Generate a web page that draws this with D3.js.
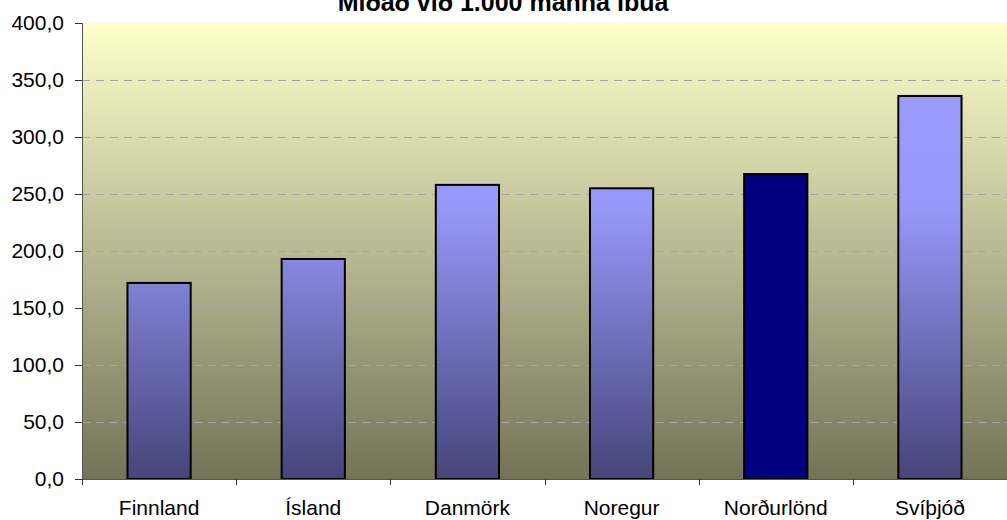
<!DOCTYPE html>
<meta charset="utf-8">
<style>
body { margin: 0; background: #fff; }
svg text { font-family: "Liberation Sans", Arial, sans-serif; }
.grid line { stroke: #a6a6a6; stroke-dasharray: 8 6; }
</style>
<svg width="1007" height="520"></svg>
<script src="https://cdn.jsdelivr.net/npm/d3@7"></script>
<script>

var categories = ["Finnland", "Ísland", "Danmörk", "Noregur", "Norðurlönd", "Svíþjóð"];
var values = [172, 193, 258, 255, 267.5, 336];
var highlight = ["Norðurlönd"];
var yTicks = [0, 50, 100, 150, 200, 250, 300, 350, 400];
var title = "Miðað við 1.000 manna íbúa";

var svg = d3.select("svg"),
    margin = {top: 23, right: 0, bottom: 41, left: 82},
    width = +svg.attr("width") - margin.left - margin.right,
    height = +svg.attr("height") - margin.top - margin.bottom;

var defs = svg.append("defs");

var bg = defs.append("linearGradient")
    .attr("id", "bg").attr("x1", 0).attr("y1", 0).attr("x2", 0).attr("y2", 1);
bg.append("stop").attr("offset", "0%").attr("stop-color", "#ffffcc");
bg.append("stop").attr("offset", "100%").attr("stop-color", "#737358");

var barFill = defs.append("linearGradient")
    .attr("id", "barfill").attr("gradientUnits", "userSpaceOnUse")
    .attr("x1", 0).attr("y1", 0).attr("x2", 0).attr("y2", height);
barFill.append("stop").attr("offset", "0%").attr("stop-color", "#9e9eff");
barFill.append("stop").attr("offset", "40%").attr("stop-color", "#9898fa");
barFill.append("stop").attr("offset", "100%").attr("stop-color", "#45457a");

var x = d3.scaleBand().domain(categories).range([0, width]).paddingInner(0.59).paddingOuter(0.295);
var y = d3.scaleLinear().domain([0, 400]).range([height, 0]);

var g = svg.append("g").attr("transform", "translate(" + margin.left + "," + margin.top + ")");

g.append("rect")
    .attr("width", width).attr("height", height)
    .attr("fill", "url(#bg)");

g.append("g").attr("class", "grid")
  .selectAll("line")
  .data(yTicks.filter(function(d) { return d > 0 && d < 400; }))
  .enter().append("line")
    .attr("x1", 0).attr("x2", width)
    .attr("y1", function(d) { return Math.round(y(d)) + 0.5; })
    .attr("y2", function(d) { return Math.round(y(d)) + 0.5; });

g.append("g")
  .selectAll("rect")
  .data(categories)
  .enter().append("rect")
    .attr("x", function(d) { return x(d); })
    .attr("y", function(d, i) { return y(values[i]); })
    .attr("width", x.bandwidth())
    .attr("height", function(d, i) { return height - y(values[i]); })
    .attr("fill", function(d) { return highlight.indexOf(d) >= 0 ? "#000080" : "url(#barfill)"; })
    .attr("stroke", "#000")
    .attr("stroke-width", 2);

var yAxis = g.append("g")
    .call(d3.axisLeft(y).tickValues(yTicks).tickSize(7).tickPadding(11)
      .tickFormat(function(d) { return d3.format(".1f")(d).replace(".", ","); }));
yAxis.select(".domain").attr("stroke", "#555").attr("d", "M0.5,0V" + height);
yAxis.selectAll(".tick line").attr("stroke", "#333");
yAxis.selectAll("text").attr("font-size", 21).attr("fill", "#000")
    .style("font-family", "Liberation Sans, Arial, sans-serif");

var xAxis = g.append("g")
    .attr("transform", "translate(0," + height + ")")
    .call(d3.axisBottom(x).tickSize(0).tickPadding(21));
xAxis.select(".domain").attr("stroke", "#555");
xAxis.selectAll("text").attr("font-size", 21).attr("fill", "#000")
    .style("font-family", "Liberation Sans, Arial, sans-serif");

// category separators
xAxis.selectAll(".sep")
  .data(categories.slice(1))
  .enter().append("line")
    .attr("x1", function(d) { return Math.round(x(d) - x.step() * x.paddingInner() / 2) + 0.5; })
    .attr("x2", function(d) { return Math.round(x(d) - x.step() * x.paddingInner() / 2) + 0.5; })
    .attr("y1", 0).attr("y2", 6)
    .attr("stroke", "#333");
xAxis.append("line").attr("x1", 0.5).attr("x2", 0.5).attr("y1", 0).attr("y2", 6).attr("stroke", "#333");

svg.append("text")
    .attr("x", 503).attr("y", 11)
    .attr("text-anchor", "middle")
    .attr("font-size", 25).attr("font-weight", "bold")
    .text(title);

</script>
